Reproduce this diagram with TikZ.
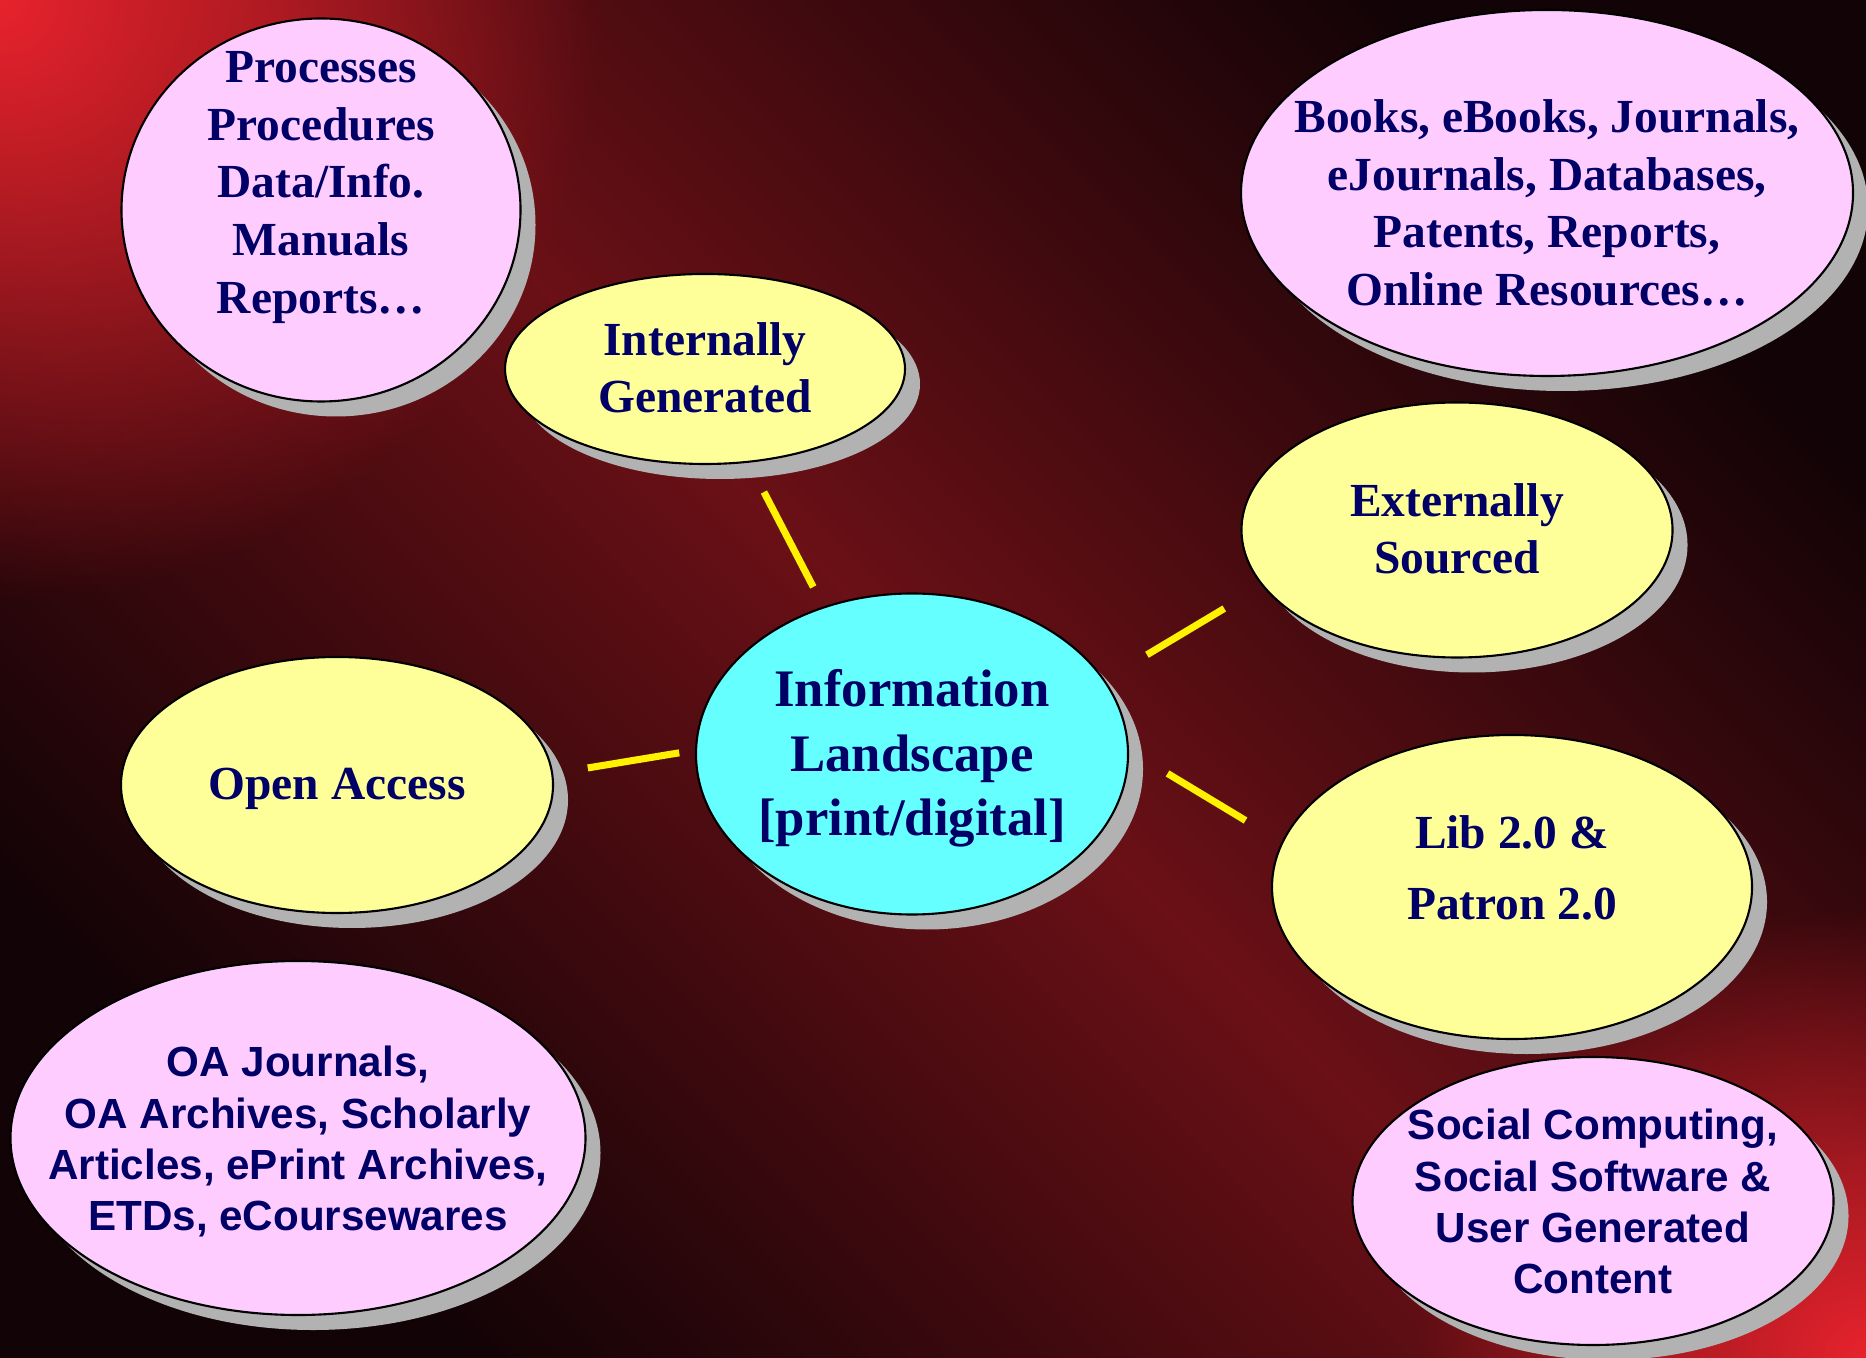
\documentclass[tikz,border=0pt]{standalone}
\usepackage{fontspec}
\setmainfont{Liberation Serif}
\setsansfont{Liberation Sans}
\usetikzlibrary{positioning,shapes.geometric,shadows,fadings}

\definecolor{txtnavy}{HTML}{000066}
\definecolor{pinkfill}{HTML}{FFCCFF}
\definecolor{yelfill}{HTML}{FFFF99}
\definecolor{cyanfill}{HTML}{66FFFF}
\definecolor{shadowgray}{HTML}{B2B2B2}
\definecolor{bgred}{HTML}{E8232D}
\definecolor{bgmaroon}{HTML}{6A1016}
\definecolor{bgdark}{HTML}{120306}

\tikzfading[name=glow, inner color=transparent!0, outer color=transparent!100]

% text block of an oval, shifted by #1, not counted in the oval size
\newcommand{\ovaltext}[2][-1.6mm]{\raisebox{#1}[0pt][0pt]{\makebox[0pt]{\begin{tabular}{@{}c@{}}#2\end{tabular}}}}

\tikzset{
  oval/.style={ellipse, draw=black, line width=0.6pt, inner sep=0pt, text=txtnavy,
    drop shadow={shadow xshift=.15cm, shadow yshift=-.15cm, fill=shadowgray, opacity=1}},
  pinkoval/.style={oval, fill=pinkfill},
  yellowoval/.style={oval, fill=yelfill},
  cyanoval/.style={oval, fill=cyanfill},
  seriftext/.style={font=\bfseries\fontsize{13.5}{16.4}\selectfont},
  sanstext/.style={font=\sffamily\bfseries\fontsize{12}{14.6}\selectfont},
  link/.style={draw=yellow, line width=2pt},
}

\begin{document}
\begin{tikzpicture}
    \useasboundingbox (0,0) rectangle (18.66,-13.58);

    % dark red background with bright corners
    \begin{scope}
      \clip (0,0) rectangle (18.66,-13.58);
      \shade[top color=bgdark, bottom color=bgdark, middle color=bgmaroon, shading angle=-45]
        (0,0) rectangle (18.66,-13.58);
      \fill[bgred, path fading=glow] (0,0) circle (6);
      \fill[bgred, path fading=glow] (18.66,-13.58) circle (4.5);
    \end{scope}

    % centre
    \node[cyanoval, font=\bfseries\fontsize{15}{18.4}\selectfont,
          minimum width=4.32cm, minimum height=3.21cm] (info) at (9.12,-7.54)
          {\ovaltext[-1.7mm]{Information\\Landscape\\{[}print/digital{]}}};

    % four branches
    \node[yellowoval, seriftext, minimum width=4.00cm, minimum height=1.90cm] (intgen) at (7.05,-3.69)
          {\ovaltext{Internally\\Generated}};
    \node[yellowoval, seriftext, minimum width=4.31cm, minimum height=2.55cm] (extsrc) at (14.57,-5.30)
          {\ovaltext{Externally\\Sourced}};
    \node[yellowoval, seriftext, minimum width=4.32cm, minimum height=2.56cm] (openacc) at (3.37,-7.85)
          {\ovaltext{Open Access}};
    \node[yellowoval, seriftext, minimum width=4.80cm, minimum height=3.04cm] (lib) at (15.12,-8.87)
          {\ovaltext[0.2mm]{Lib 2.0 \&\\[4pt]Patron 2.0}};

    % examples
    \node[pinkoval, seriftext, minimum width=3.99cm, minimum height=3.83cm] (proc) at (3.21,-2.10)
          {\ovaltext[1.1mm]{Processes\\Procedures\\Data/Info.\\Manuals\\Reports\ldots}};
    \node[pinkoval, seriftext, minimum width=6.12cm, minimum height=3.66cm] (books) at (15.47,-1.93)
          {\ovaltext[-2.7mm]{Books, eBooks, Journals,\\eJournals, Databases,\\Patents, Reports,\\Online Resources\ldots}};
    \node[pinkoval, sanstext, minimum width=5.75cm, minimum height=3.54cm] (oajour) at (2.98,-11.38)
          {\ovaltext{OA Journals,\\OA Archives, Scholarly\\Articles, ePrint Archives,\\ETDs, eCoursewares}};
    \node[pinkoval, sanstext, minimum width=4.81cm, minimum height=2.88cm] (social) at (15.93,-12.01)
          {\ovaltext{Social Computing,\\Social Software \&\\User Generated\\Content}};

    % links
    \draw[link, shorten <=0.22cm, shorten >=0.33cm] (info.121) -- (intgen.295);
    \draw[link, shorten <=0.49cm, shorten >=0.44cm] (info.21) -- (extsrc.196);
    \draw[link, shorten <=0.16cm, shorten >=0.35cm] (info.179) -- (openacc.3);
    \draw[link, shorten <=0.45cm, shorten >=0.42cm] (info.1) -- (lib.169);
\end{tikzpicture}
\end{document}
